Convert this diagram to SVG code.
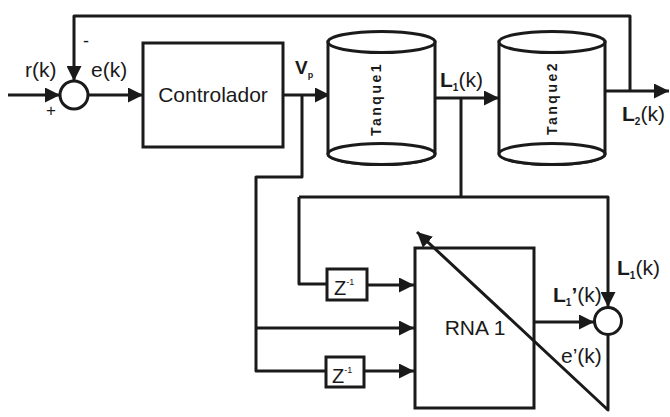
<svg xmlns="http://www.w3.org/2000/svg" width="670" height="417" viewBox="0 0 670 417">
<style>
.s{fill:none;stroke:#1a1a1a;stroke-width:3;stroke-linejoin:round}
.b{fill:#fff;stroke:#1a1a1a;stroke-width:3}
.t{font-family:"Liberation Sans",Arial,sans-serif;font-size:21px;fill:#1a1a1a}
.bold{font-weight:bold}
.tk{font-family:"Liberation Sans",Arial,sans-serif;font-size:14px;font-weight:bold;letter-spacing:2.5px;fill:#1a1a1a}
</style>
<defs>
<marker id="ah" markerUnits="userSpaceOnUse" markerWidth="15" markerHeight="15" refX="15" refY="7.5" orient="auto">
<path d="M0,0 L15,7.5 L0,15 Z" fill="#1a1a1a"/>
</marker>
</defs>
<g id="connectors">
<path class="s" d="M8,95 H60" marker-end="url(#ah)"/>
<path class="s" d="M630,91 V16 H74 V81" marker-end="url(#ah)"/>
<path class="s" d="M88,95 H143" marker-end="url(#ah)"/>
<path class="s" d="M283,95 H330" marker-end="url(#ah)"/>
<path class="s" d="M302,95 V177 H256 V371 H326"/>
<path class="s" d="M256,328 H414" marker-end="url(#ah)"/>
<path class="s" d="M435,98 H499" marker-end="url(#ah)"/>
<path class="s" d="M605,91 H669" marker-end="url(#ah)"/>
<path class="s" d="M461,98 V197"/>
<path class="s" d="M299,197 H608 V307" marker-end="url(#ah)"/>
<path class="s" d="M299,197 V284 H327"/>
<path class="s" d="M367,285 H414" marker-end="url(#ah)"/>
<path class="s" d="M364,371 H414" marker-end="url(#ah)"/>
<path class="s" d="M534,322 H594" marker-end="url(#ah)"/>
</g>
<g id="sum1"><circle class="b" cx="74" cy="95" r="14"/></g>
<g id="controlador">
<rect class="b" x="143" y="43" width="140" height="104"/>
<text class="t" x="213" y="102" text-anchor="middle">Controlador</text>
</g>
<g id="tanque1">
<path class="b" d="M328,42 V154 A53.5,10.5 0 0 0 435,154 V42 Z"/>
<ellipse class="b" cx="381.5" cy="42" rx="53.5" ry="10.5"/>
<ellipse class="b" cx="381.5" cy="154" rx="53.5" ry="10.5"/>
<text class="tk" transform="translate(381,99) rotate(-90)" text-anchor="middle">Tanque1</text>
</g>
<g id="tanque2">
<path class="b" d="M499,42 V154 A53,10.5 0 0 0 605,154 V42 Z"/>
<ellipse class="b" cx="552" cy="42" rx="53" ry="10.5"/>
<ellipse class="b" cx="552" cy="154" rx="53" ry="10.5"/>
<text class="tk" transform="translate(557,98) rotate(-90)" text-anchor="middle">Tanque2</text>
</g>
<g id="z1">
<rect class="b" x="327" y="269" width="40" height="31"/>
<text class="t" x="334" y="295" style="font-size:20px">Z<tspan style="font-size:9px" dy="-10">-1</tspan></text>
</g>
<g id="z2">
<rect class="b" x="326" y="357" width="38" height="30"/>
<text class="t" x="332" y="383" style="font-size:20px">Z<tspan style="font-size:9px" dy="-10">-1</tspan></text>
</g>
<g id="rna1">
<rect class="b" x="415" y="248" width="119" height="160"/>
<text class="t" x="475" y="335" text-anchor="middle">RNA 1</text>
</g>
<g id="sum2"><circle class="b" cx="608" cy="321" r="13.5"/></g>
<g id="error-path">
<path class="s" d="M608,335 V410 L417,232" marker-end="url(#ah)"/>
</g>
<g id="labels">
<text class="t" x="25" y="77">r(k)</text>
<text class="t" x="91" y="77">e(k)</text>
<text class="t" x="83" y="47" style="font-size:18px">-</text>
<text class="t" x="46" y="116" style="font-size:17px">+</text>
<text class="t bold" x="295" y="74" style="font-size:19px">V<tspan style="font-size:9px" dy="4">p</tspan></text>
<text class="t" x="440" y="87"><tspan class="bold">L</tspan><tspan class="bold" style="font-size:10px" dy="4">1</tspan><tspan dy="-4">(k)</tspan></text>
<text class="t" x="622" y="121"><tspan class="bold">L</tspan><tspan class="bold" style="font-size:10px" dy="4">2</tspan><tspan dy="-4">(k)</tspan></text>
<text class="t" x="617" y="275"><tspan class="bold">L</tspan><tspan class="bold" style="font-size:10px" dy="4">1</tspan><tspan dy="-4">(k)</tspan></text>
<text class="t" x="553" y="302"><tspan class="bold">L</tspan><tspan class="bold" style="font-size:10px" dy="4">1</tspan><tspan class="bold" dy="-4">’</tspan><tspan>(k)</tspan></text>
<text class="t" x="561" y="363">e’(k)</text>
</g>
</svg>
